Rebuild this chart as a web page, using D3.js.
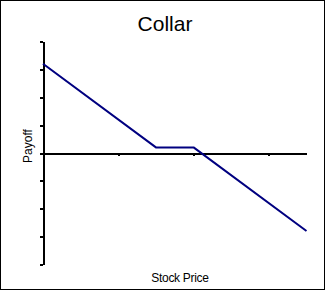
<!DOCTYPE html>
<html>
<head>
<meta charset="utf-8">
<script src="https://cdn.jsdelivr.net/npm/d3@7"></script>
<style>
  html, body { margin: 0; padding: 0; background: #fff; }
  svg { display: block; font-family: "Liberation Sans", Arial, sans-serif; }
  .axis path, .axis line { stroke: #000; stroke-width: 2; shape-rendering: crispEdges; }
</style>
</head>
<body>
<div id="chart"></div>
<script>
/* Collar – payoff diagram (D3 v7) */

// Data (kink points of the payoff line)
const stockPrice = [0, 30, 40, 70];
const payoff = [32, 2, 2, -28];

// Tick values (no labels shown)
const yTicks = [-40, -30, -20, -10, 0, 10, 20, 30, 40];
const xTicks = [20, 40, 60];

const COLORS = {
  ink: "#000000",
  line: "#000080",
};

const width = 326;
const height = 291;

const svg = d3.select("#chart").append("svg")
  .attr("width", width)
  .attr("height", height);

// Frame
svg.append("rect")
  .attr("x", 0.5).attr("y", 0.5)
  .attr("width", width - 2).attr("height", height - 2)
  .attr("fill", "#fff")
  .attr("stroke", COLORS.ink);

// Scales
const x = d3.scaleLinear().domain([0, 70]).range([43, 306.5]);
const y = d3.scaleLinear().domain([-40, 40]).range([264.5, 41.5]);

// Y axis along the left edge
svg.append("g").attr("class", "axis")
  .attr("transform", `translate(${x(0)},0)`)
  .call(d3.axisLeft(y).tickValues(yTicks).tickSize(3).tickSizeOuter(0).tickFormat(""));

// X axis through zero
svg.append("g").attr("class", "axis")
  .attr("transform", `translate(0,${y(0)})`)
  .call(d3.axisBottom(x).tickValues(xTicks).tickSize(3).tickSizeOuter(0).tickFormat(""));

// Payoff line
const points = stockPrice.map((s, i) => ({ s, p: payoff[i] }));
svg.append("path")
  .datum(points)
  .attr("fill", "none")
  .attr("stroke", COLORS.line)
  .attr("stroke-width", 2)
  .attr("stroke-linejoin", "round")
  .attr("d", d3.line().x(d => x(d.s)).y(d => y(d.p)));

// Titles
svg.append("text")
  .attr("x", 165).attr("y", 31)
  .attr("text-anchor", "middle")
  .attr("font-size", 21)
  .text("Collar");

svg.append("text")
  .attr("transform", "translate(32,146) rotate(-90)")
  .attr("text-anchor", "middle")
  .attr("font-size", 12)
  .text("Payoff");

svg.append("text")
  .attr("x", 180).attr("y", 282)
  .attr("text-anchor", "middle")
  .attr("font-size", 12)
  .attr("letter-spacing", -0.3)
  .text("Stock Price");
</script>
</body>
</html>
